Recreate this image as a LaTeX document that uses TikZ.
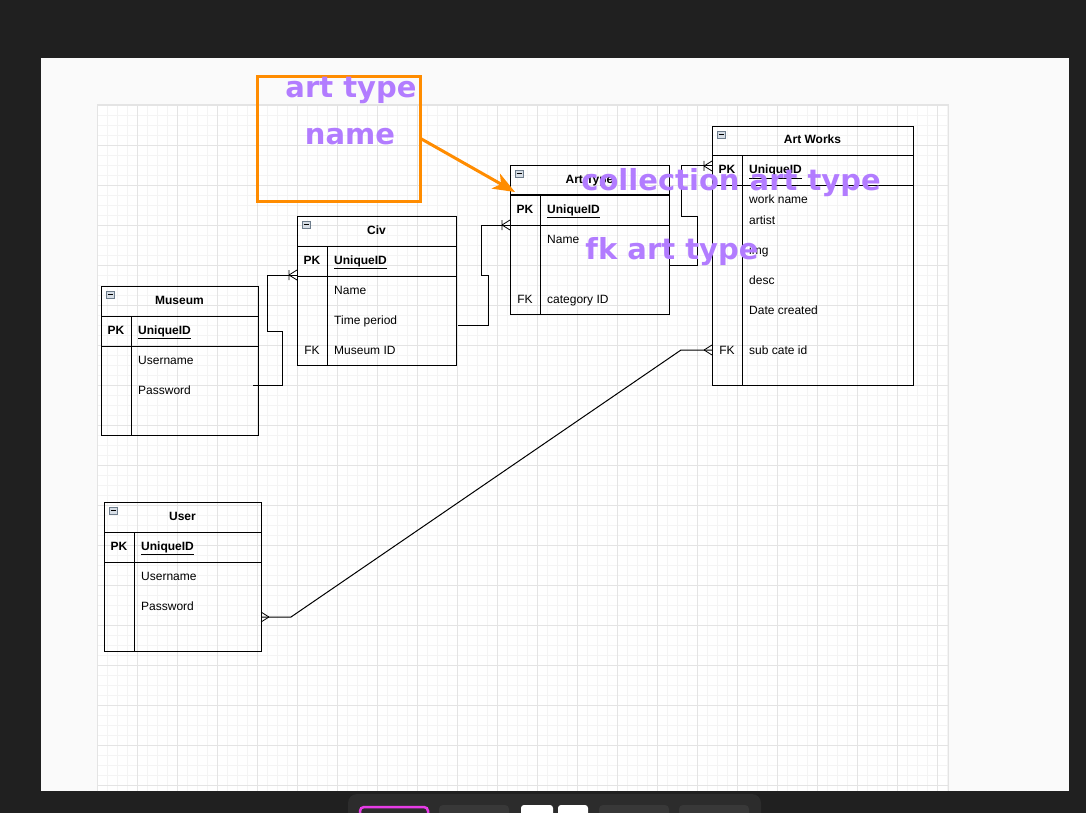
\documentclass[tikz,border=0pt]{standalone}
\usepackage{fontspec}
\setmainfont{Liberation Sans}
\newfontfamily\notefont{DejaVu Sans}
\usetikzlibrary{arrows.meta}

\definecolor{darkbg}{RGB}{32,32,32}
\definecolor{panelbg}{RGB}{250,250,250}
\definecolor{gridfine}{RGB}{244,244,244}
\definecolor{gridbold}{RGB}{228,228,228}
\definecolor{noteorange}{RGB}{255,140,0}
\definecolor{notepurple}{RGB}{178,124,255}
\definecolor{barbg}{RGB}{44,44,44}
\definecolor{btnbg}{RGB}{56,56,56}

% frame of one ER table: name, left, top, width, height, title
\newcommand{\ertable}[6]{%
  \node[tbl, minimum width=#4pt, minimum height=#5pt] (#1) at (#2,#3) {};
  \draw[tblline] (#2,#3+30) -- ++(#4,0) (#2,#3+60) -- ++(#4,0)
    (#2+30,#3+30) -- (#2+30,#3+#5);
  \draw[minusbox] (#2+5,#3+5) rectangle ++(8,7);
  \draw[line width=0.8pt] (#2+6.5,#3+8.5) -- ++(5,0);
  \node[hdr] (#1-title) at (#2+#4/2,#3+18) {#6};
  \node[key, font=\fontsize{12}{14}\selectfont\bfseries] (#1-pk) at (#2+15,#3+48) {PK};
  \node[fld] (#1-id) at (#2+37,#3+48) {\underline{\textbf{UniqueID}}};
}

\begin{document}
\begin{tikzpicture}[x=1pt, y=-1pt,
  tbl/.style={draw, line width=1pt, anchor=north west, inner sep=0pt},
  tblline/.style={line width=1pt},
  minusbox/.style={draw={rgb,255:red,110;green,125;blue,140}, fill={rgb,255:red,215;green,222;blue,230}, line width=0.6pt},
  hdr/.style={anchor=base, inner sep=0pt, font=\fontsize{12}{14}\selectfont\bfseries},
  key/.style={anchor=base, inner sep=0pt, font=\fontsize{12}{14}\selectfont},
  fld/.style={anchor=base west, inner sep=0pt, font=\fontsize{12}{14}\selectfont},
  conn/.style={line width=1pt},
  crow/.pic={\draw[line width=0.8pt] (-8,0) -- (0,-5) (-8,0) -- (0,5);},
  crowbar/.pic={\draw[line width=0.8pt] (-8,0) -- (0,-5) (-8,0) -- (0,5) (-8,-5) -- (-8,5);},
  note/.style={font=\notefont\bfseries\fontsize{29}{34}\selectfont, text=notepurple, anchor=base, inner sep=0pt},
]
\useasboundingbox (0,0) rectangle (1086,813);
\begin{scope}
\clip (0,0) rectangle (1086,813);
\fill[darkbg] (0,0) rectangle (1086,813);
\fill[panelbg] (41,58) rectangle (1069,791);

% grid
\fill[white] (97,105) rectangle (948,791);
\foreach \gx in {97,107,...,947} \draw[gridfine, line width=0.8pt] (\gx,105) -- (\gx,791);
\foreach \gy in {105,115,...,785} \draw[gridfine, line width=0.8pt] (97,\gy) -- (948,\gy);
\foreach \gx in {97,137,...,937} \draw[gridbold, line width=0.8pt] (\gx,105) -- (\gx,791);
\foreach \gy in {105,145,...,785} \draw[gridbold, line width=0.8pt] (97,\gy) -- (948,\gy);
\draw[gridbold, line width=1pt] (97,791) |- (948,105) -- (948,791);

% toolbar
\fill[barbg, rounded corners=9pt] (348,794) rectangle (761,840);
\draw[draw={rgb,255:red,230;green,60;blue,230}, line width=2.5pt, rounded corners=4pt, fill=barbg] (360,807) rectangle (428,830);
\fill[btnbg, rounded corners=4pt] (439,805) rectangle (509,830);
\fill[white, rounded corners=3pt] (521,805) rectangle (553,830);
\fill[white, rounded corners=3pt] (558,805) rectangle (588,830);
\fill[btnbg, rounded corners=4pt] (599,805) rectangle (669,830);
\fill[btnbg, rounded corners=4pt] (679,805) rectangle (749,830);
\end{scope}

% tables
\ertable{museum}{101}{286}{157}{149}{Museum}
\node[fld] (museum-user) at (138,364) {Username};
\node[fld] (museum-pw) at (138,394) {Password};

\ertable{civ}{297}{216}{159}{149}{Civ}
\node[fld] (civ-name) at (334,294) {Name};
\node[fld] (civ-time) at (334,324) {Time period};
\node[key] (civ-fk) at (312,354) {FK};
\node[fld] (civ-mus) at (334,354) {Museum ID};

\ertable{arttype}{510}{165}{159}{149}{Art Type}
\node[fld] (arttype-name) at (547,243) {Name};
\node[key] (arttype-fk) at (525,303) {FK};
\node[fld] (arttype-cat) at (547,303) {category ID};

\ertable{artworks}{712}{126}{201}{259}{Art Works}
\node[fld] (artworks-work) at (749,204) {work name};
\node[fld] (artworks-artist) at (749,224) {artist};
\node[fld] (artworks-img) at (749,254) {img};
\node[fld] (artworks-desc) at (749,284) {desc};
\node[fld] (artworks-date) at (749,314) {Date created};
\node[key] (artworks-fk) at (727,354) {FK};
\node[fld] (artworks-sub) at (749,354) {sub cate id};

\ertable{user}{104}{502}{157}{149}{User}
\node[fld] (user-user) at (141,580) {Username};
\node[fld] (user-pw) at (141,610) {Password};

% relations
\coordinate (mus-out) at (253,385);
\coordinate (civ-in) at (297,275);
\coordinate (civ-out) at (458,325);
\coordinate (at-in) at (510,225);
\coordinate (at-out) at (669,265);
\coordinate (aw-in) at (712,166);
\coordinate (user-out) at (261,617);
\coordinate (aw-fkin) at (712,350);

\draw[conn] (mus-out) -| (282,331) -| (267,275) -- (civ-in);
\pic at (civ-in) {crowbar};
\draw[conn] (civ-out) -| (488,275) -| (481,225) -- (at-in);
\pic at (at-in) {crowbar};
\draw[conn] (at-out) -| (697,216) -| (681,166) -- (aw-in);
\pic at (aw-in) {crowbar};
\draw[conn] (user-out) -- (291,617) -- (681,350) -- (aw-fkin);
\pic[rotate=180] at (user-out) {crow};
\pic at (aw-fkin) {crow};

% notes
\node[draw=noteorange, line width=3pt, minimum width=163pt, minimum height=124pt, inner sep=0pt] (namenote) at (338.5,139) {};
\coordinate (at-corner) at (515,192);
\draw[noteorange, line width=3pt, -{Stealth[length=22pt, width=17pt, inset=6pt]}] (namenote.east) -- (at-corner);
\node[note] (note-art) at (351,98) {art type};
\node[note] (note-name) at (350,145) {name};
\node[note] (note-coll) at (731,190) {collection art type};
\node[note] (note-fk) at (672,259) {fk art type};
\end{tikzpicture}
\end{document}
